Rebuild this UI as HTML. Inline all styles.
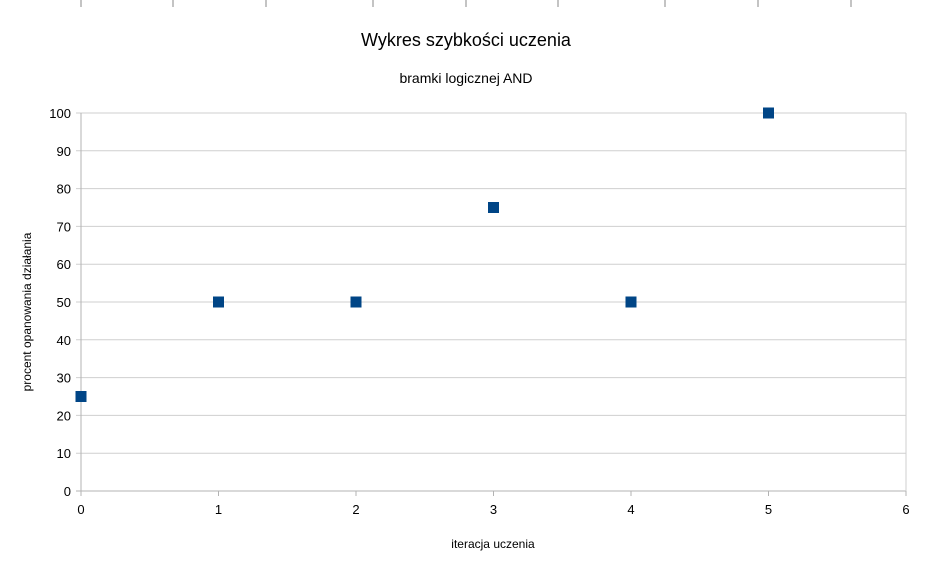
<!DOCTYPE html>
<html><head><meta charset="utf-8"><style>
body{margin:0;background:#fff}
svg{display:block;font-family:"Liberation Sans",sans-serif}
</style></head><body>
<svg width="932" height="566" id="c">
<g id="topmarks"></g>
<text x="466" y="46" font-size="18" text-anchor="middle" fill="#000">Wykres szybkości uczenia</text>
<text x="466" y="83" font-size="14" text-anchor="middle" fill="#000">bramki logicznej AND</text>
<g id="grid"></g>
<g id="axes"></g>
<g id="pts"></g>
<text x="493" y="548" font-size="12" text-anchor="middle">iteracja uczenia</text>
<text transform="translate(31,312) rotate(-90)" font-size="12" text-anchor="middle">procent opanowania działania</text>
</svg>
<script>
const xValues=[0,1,2,3,4,5];
const yValues=[25,50,50,75,50,100];
const xTicks=[0,1,2,3,4,5,6];
const yTicks=[0,10,20,30,40,50,60,70,80,90,100];
const NS="http://www.w3.org/2000/svg";
const X=v=>81+v*137.5, Y=v=>491-v*3.78;
function mk(t,a,p){const e=document.createElementNS(NS,t);for(const k in a)e.setAttribute(k,a[k]);p.appendChild(e);return e;}
const tm=document.getElementById('topmarks');
[81,173,266,373,466,558,665,758,851].forEach(x=>{const e=mk('line',{x1:x,x2:x,y1:0,y2:7,stroke:'#888'},tm);

});
const g=document.getElementById('grid');
yTicks.forEach(v=>{const l=mk('line',{x1:76,x2:X(6),y1:Y(v),y2:Y(v),stroke:v===0?'#b3b3b3':'#cfcfcf','stroke-width':1},g);


const t=mk('text',{x:71,y:Y(v)+5,'font-size':13,'text-anchor':'end'},g);t.textContent=v;

});
const a=document.getElementById('axes');
mk('line',{x1:X(0),x2:X(0),y1:Y(100),y2:Y(0)+5,stroke:'#b3b3b3'},a);
mk('line',{x1:X(6),x2:X(6),y1:Y(100),y2:Y(0),stroke:'#cfcfcf'},a);
xTicks.forEach(v=>{mk('line',{x1:X(v),x2:X(v),y1:Y(0),y2:Y(0)+5,stroke:'#b3b3b3'},a);
const t=mk('text',{x:X(v),y:514,'font-size':13,'text-anchor':'middle'},a);t.textContent=v;

});
const p=document.getElementById('pts');
xValues.forEach((x,i)=>{const r=mk('rect',{x:X(x)-5.5,y:Y(yValues[i])-5.5,width:11,height:11,fill:'#004586'},p);

});
</script>
</body></html>
